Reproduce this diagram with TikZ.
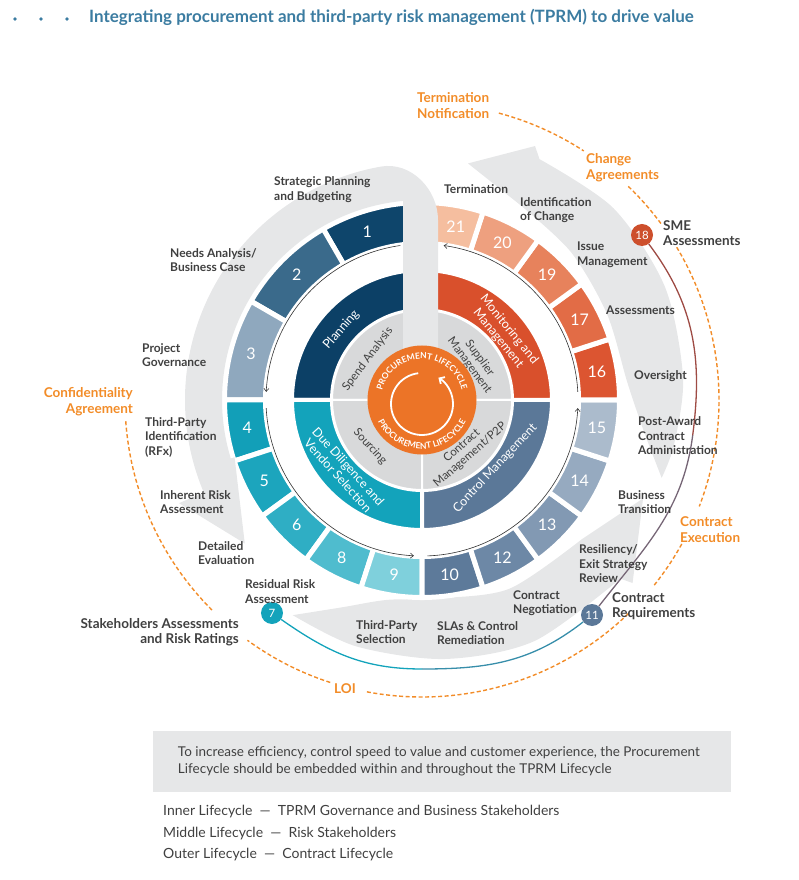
\documentclass[tikz,border=0pt]{standalone}
\usepackage{fontspec}
\setmainfont{Lato}
\usepackage{xcolor}
\usepackage{tikz}
\usetikzlibrary{positioning}
\usetikzlibrary{arrows,arrows.meta}
\usetikzlibrary{decorations.text}

\definecolor{titleblue}{HTML}{3B7CA1}
\definecolor{labelgrey}{HTML}{404040}
\definecolor{contractorange}{HTML}{F28C28}
\definecolor{bandgrey}{HTML}{E6E7E8}
\definecolor{ringgrey}{HTML}{D8D9DA}
\definecolor{coreorange}{HTML}{EC7427}
\definecolor{planning}{HTML}{0C4066}
\definecolor{monitoring}{HTML}{D9502C}
\definecolor{diligence}{HTML}{13A3BB}
\definecolor{control}{HTML}{5B7898}
\definecolor{sme}{HTML}{CD4F2C}
\definecolor{riskbrown}{HTML}{9E4B44}
\definecolor{seg1}{HTML}{0E456B}
\definecolor{seg2}{HTML}{3A6A8B}
\definecolor{seg3}{HTML}{8FA8BE}
\definecolor{seg4}{HTML}{129FB8}
\definecolor{seg5}{HTML}{1CA5BD}
\definecolor{seg6}{HTML}{2FAEC4}
\definecolor{seg8}{HTML}{4FBCCE}
\definecolor{seg9}{HTML}{7FD0DC}
\definecolor{seg10}{HTML}{5D7A9A}
\definecolor{seg12}{HTML}{6D88A6}
\definecolor{seg13}{HTML}{8299B3}
\definecolor{seg14}{HTML}{96AAC0}
\definecolor{seg15}{HTML}{ABBBCC}
\definecolor{seg16}{HTML}{DC5531}
\definecolor{seg17}{HTML}{E26C46}
\definecolor{seg19}{HTML}{E7825C}
\definecolor{seg20}{HTML}{EEA07F}
\definecolor{seg21}{HTML}{F5BE9F}

\tikzset{edge/.style = {-{Straight Barb[length=3pt,width=5pt]}, line width=0.6pt, draw=black!80}}
\tikzset{stage/.style = {anchor=west, align=left, inner sep=0pt, text=labelgrey, font=\fontsize{12}{14.5}\selectfont\bfseries}}

\newcommand{\annsector}[6]{\fill[fill=#5,draw=white,line width=#6] (#1:#3) arc[start angle=#1,end angle=#2,radius=#3] -- (#2:#4) arc[start angle=#2,end angle=#1,radius=#4] -- cycle;}
\newcommand{\ringseg}[5]{\annsector{#1}{#2}{156.5}{197.5}{#3}{5pt}\node[segnum] (s#4) at (#5:177) {#4};}

\begin{document}
\begin{tikzpicture}[x=1pt,y=1pt,
  segnum/.style={text=white,font=\fontsize{16}{16}\selectfont,inner sep=0pt},
  marker/.style={circle,inner sep=0pt,minimum size=22pt,text=white,font=\fontsize{11.5}{11.5}\selectfont},
  phase/.style={text=white,align=center,inner sep=0pt,font=\fontsize{12.5}{14}\selectfont},
  proc/.style={text=labelgrey,align=center,inner sep=0pt,font=\fontsize{11.5}{12.5}\selectfont},
  contract/.style={anchor=west,align=left,inner sep=0pt,text=contractorange,font=\fontsize{13.5}{16}\selectfont\bfseries},
  keyrisk/.style={anchor=west,align=left,inner sep=0pt,text=labelgrey,font=\fontsize{13.5}{15.5}\selectfont\bfseries},
  dashedarc/.style={contractorange,line width=1.4pt,dash pattern=on 4pt off 2.5pt},
  riskline/.style={line width=1.3pt}]

\useasboundingbox (-422,-480) rectangle (377,400);

\foreach \d in {-407,-381,-355} \fill[titleblue] (\d,381) circle (1.8);
\node[anchor=west,inner sep=0pt,text=titleblue,font=\fontsize{17}{20}\selectfont\bfseries] (title) at (-333,383) {Integrating procurement and third-party risk management (TPRM) to drive value};

\foreach \a/\b in {75/57,46/-21,-29/-39,-46/-101,-108/-126,-135/-176}
  \draw[dashedarc] (\a:297) arc[start angle=\a,end angle=\b,radius=297];

\fill[bandgrey] plot[smooth] coordinates {(239:251) (249:222) (260:203) (275:199) (295:208) (319:212)} -- (336:242) -- (319:279) -- plot[smooth] coordinates {(318:267) (295:266) (275:260) (255:255) (239:251)} -- cycle;
\fill[bandgrey] plot[smooth] coordinates {(342:252) (352:224) (5:206) (25:204) (45:210) (64:219)} -- (79:241) -- (66:278) -- plot[smooth] coordinates {(64:268) (45:271) (25:268) (5:262) (350:256) (342:252)} -- cycle;

\coordinate (lowmid) at (270:269);
\coordinate (sidemid) at (352.6:273);
\node[marker,fill=diligence] (m7) at (-150,-213) {7};
\node[marker,fill=control] (m11) at (170,-215) {11};
\node[marker,fill=sme] (m18) at (220,165) {18};
\draw[riskline,draw=diligence] (m7) to[out=-35,in=180] (lowmid);
\draw[riskline,draw=diligence!50!control] (lowmid) to[out=0,in=218] (m11);
\draw[riskline,draw=control!60!riskbrown] (m11) to[out=52,in=262.6] (sidemid);
\draw[riskline,draw=riskbrown] (sidemid) to[out=82.6,in=307] (m18);

\ringseg{90}{120}{seg1}{1}{108}
\ringseg{120}{150}{seg2}{2}{135}
\ringseg{150}{180}{seg3}{3}{165}
\ringseg{180}{198}{seg4}{4}{189}
\ringseg{198}{216}{seg5}{5}{207}
\ringseg{216}{234}{seg6}{6}{225}
\ringseg{234}{252}{seg8}{8}{243}
\ringseg{252}{270}{seg9}{9}{261}
\ringseg{270}{288}{seg10}{10}{279}
\ringseg{288}{306}{seg12}{12}{297}
\ringseg{306}{324}{seg13}{13}{315}
\ringseg{324}{342}{seg14}{14}{333}
\ringseg{342}{360}{seg15}{15}{351}
\ringseg{0}{18}{seg16}{16}{9}
\ringseg{18}{36}{seg17}{17}{27}
\ringseg{36}{54}{seg19}{19}{45}
\ringseg{54}{72}{seg20}{20}{63}
\ringseg{72}{90}{seg21}{21}{79}

\annsector{90}{180}{90}{130}{planning}{4pt}
\annsector{180}{270}{90}{130}{diligence}{4pt}
\annsector{270}{360}{90}{130}{control}{4pt}
\annsector{0}{90}{90}{130}{monitoring}{4pt}
\annsector{0}{90}{40}{90}{ringgrey}{2pt}
\annsector{90}{180}{40}{90}{ringgrey}{2pt}
\annsector{180}{270}{40}{90}{ringgrey}{2pt}
\annsector{270}{360}{40}{90}{ringgrey}{2pt}

\node[phase,rotate=49] (plan) at (139:107) {Planning};
\node[phase,rotate=-51] (monitor) at (39:105) {Monitoring and\\Management};
\node[phase,rotate=-48] (dilig) at (222:106) {Due Diligence and\\Vendor Selection};
\node[phase,rotate=47] (controlm) at (317:100) {Control Management};
\node[proc,rotate=53] (spend) at (143:68) {Spend Analysis};
\node[proc,rotate=-54] (supplier) at (36:65) {Supplier\\Management};
\node[proc,rotate=-48] (sourcing) at (222:70) {Sourcing};
\node[proc,rotate=41] (p2p) at (311:67) {Contract\\Management/P2P};

\fill[bandgrey] (-19,0) -- (-19,199.1) arc[start angle=95.46,end angle=197,radius=200] -- (197:196) -- (219:228) -- (203:264) -- (203:237) arc[start angle=203,end angle=100,radius=237] to[out=10,in=90] (16,180) -- (16,0) -- cycle;

\node[circle,fill=coreorange,minimum size=109pt,inner sep=0pt] (core) at (0,0) {};
\path[decorate,decoration={text along path,text align=center,text={|\color{white}\fontsize{8.5}{8.5}\selectfont\bfseries|PROCUREMENT LIFECYCLE}}] (172:41) arc[start angle=172,end angle=8,radius=41];
\path[decorate,decoration={text along path,text align=center,text={|\color{white}\fontsize{8.5}{8.5}\selectfont\bfseries|PROCUREMENT LIFECYCLE}}] (188:49) arc[start angle=188,end angle=352,radius=49];
\draw[white,line width=1.8pt,-{Straight Barb[length=4pt,width=8pt]}] ([yshift=-4pt]97:31) arc[start angle=97,end angle=418,radius=31];

\foreach \a/\b in {98/177,183/267,272/357,3/82}
  \draw[edge] (\a:156) arc[start angle=\a,end angle=\b,radius=156];

\node[stage] (strategic) at (-148,210.5) {Strategic Planning\\and Budgeting};
\node[stage] (needs) at (-252,140) {Needs Analysis/\\Business Case};
\node[stage] (governance) at (-280,45) {Project\\Governance};
\node[stage] (identification) at (-277,-37) {Third-Party\\Identification\\(RFx)};
\node[stage] (inherent) at (-262,-102) {Inherent Risk\\Assessment};
\node[stage] (detailed) at (-224,-153) {Detailed\\Evaluation};
\node[stage] (residual) at (-177,-191.5) {Residual Risk\\Assessment};
\node[stage] (selection) at (-66,-232) {Third-Party\\Selection};
\node[stage] (slas) at (15,-233) {SLAs \& Control\\Remediation};
\node[stage] (negotiation) at (91,-203) {Contract\\Negotiation};
\node[stage] (resiliency) at (157,-164) {Resiliency/\\Exit Strategy\\Review};
\node[stage] (transition) at (196,-102) {Business\\Transition};
\node[stage] (postaward) at (216,-36) {Post-Award\\Contract\\Administration};
\node[stage] (oversight) at (212,24) {Oversight};
\node[stage] (assessments) at (184,90) {Assessments};
\node[stage] (issue) at (155,145.5) {Issue\\Management};
\node[stage] (changeid) at (98,190) {Identification\\of Change};
\node[stage] (termination) at (22,211) {Termination};

\node[contract] (notification) at (-5,294) {Termination\\Notification};
\node[contract] (agreements) at (164,232) {Change\\Agreements};
\node[contract,anchor=east,align=right] (confidentiality) at (-289,-2) {Confidentiality\\Agreement};
\node[contract] (execution) at (258,-130) {Contract\\Execution};
\node[contract,anchor=center] (loi) at (-77,-289) {LOI};

\node[keyrisk,fill=white,inner sep=1pt] (smeassess) at (240,167) {SME\\Assessments};
\node[keyrisk] (requirements) at (190,-206) {Contract\\Requirements};
\node[keyrisk,anchor=east,align=right] (stakeholders) at (-183,-232) {Stakeholders Assessments\\and Risk Ratings};

\node[fill=bandgrey,minimum width=578pt,minimum height=61pt,inner sep=0pt] (note) at (20,-361.5) {};
\node[anchor=west,align=left,inner sep=0pt,text=labelgrey,font=\fontsize{13.5}{17}\selectfont] (notetext) at ([xshift=25pt]note.west) {To increase efficiency, control speed to value and customer experience, the Procurement\\Lifecycle should be embedded within and throughout the TPRM Lifecycle};
\node[anchor=west,align=left,inner sep=0pt,text=labelgrey,font=\fontsize{14}{21.5}\selectfont] (legend) at (-259,-433.5) {Inner Lifecycle~~—~~TPRM Governance and Business Stakeholders\\Middle Lifecycle~~—~~Risk Stakeholders\\Outer Lifecycle~~—~~Contract Lifecycle};
\end{tikzpicture}
\end{document}
